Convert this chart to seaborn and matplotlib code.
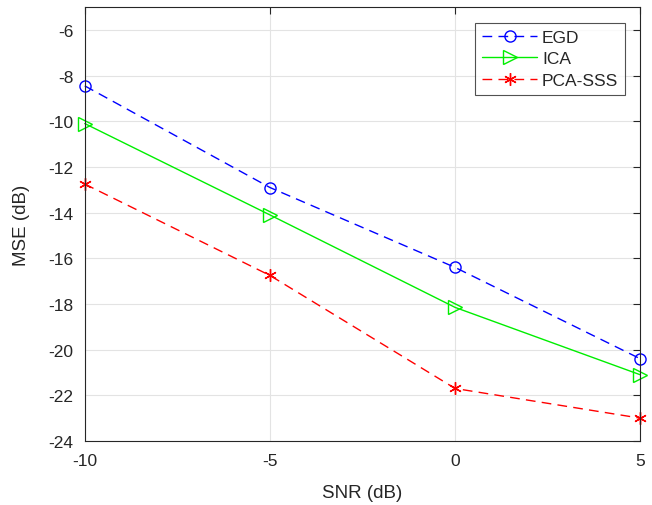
import matplotlib
matplotlib.use("Agg")
import matplotlib.pyplot as plt
import seaborn as sns
import pandas as pd

snr = [-10, -5, 0, 5]
egd = [-8.45, -12.9, -16.4, -20.4]
ica = [-10.1, -14.1, -18.15, -21.1]
pca_sss = [-12.75, -16.75, -21.7, -23.0]

sns.set_style("white")
plt.rcParams['font.family'] = ['Liberation Sans', 'DejaVu Sans']
plt.rcParams['axes.unicode_minus'] = False

fig = plt.figure(figsize=(6.52, 5.06), dpi=100)
ax = fig.add_axes([0.130, 0.1265, 0.852, 0.8575])

series = [
    ("EGD", egd, "#0000ff", True, "o", 8),
    ("ICA", ica, "#00ee00", False, ">", 10),
    ("PCA-SSS", pca_sss, "#ff0000", True, (6, 2, 0), 9),
]
for name, vals, col, dashed, mk, ms in series:
    df = pd.DataFrame({"SNR": snr, "MSE": vals})
    sns.lineplot(data=df, x="SNR", y="MSE", ax=ax, color=col, label=name,
                 marker=mk, markersize=ms, markerfacecolor="none",
                 markeredgecolor=col, markeredgewidth=1.0, linewidth=1.0,
                 clip_on=False)
    line = ax.get_lines()[-1]
    if dashed:
        line.set_dashes([7, 4.5])
    else:
        line.set_linestyle("-")

ax.set_xlim(-10, 5)
ax.set_ylim(-24, -5)
ax.set_xticks([-10, -5, 0, 5])
ax.set_yticks(list(range(-24, -5, 2)))
ax.grid(True, color="#e3e3e3", linewidth=0.8)
ax.set_axisbelow(True)
ax.tick_params(direction="in", length=5, width=0.8, labelsize=12.5, colors="#262626")
ax.tick_params(axis="x", pad=9)
ax.tick_params(axis="y", pad=8)
ax.tick_params(top=True, right=True)
for s in ax.spines.values():
    s.set_color("#262626")
    s.set_linewidth(0.8)
ax.set_xlabel("SNR (dB)", fontsize=13.5, color="#262626", labelpad=11)
ax.set_ylabel("MSE (dB)", fontsize=13.5, color="#262626", labelpad=13)

leg = ax.legend(loc="upper right", bbox_to_anchor=(0.973, 0.963), fontsize=12.5,
                frameon=True, fancybox=False, edgecolor="#262626",
                handlelength=3.15, borderpad=0.4, labelspacing=0.35,
                handletextpad=0.3, borderaxespad=0.0)
leg.get_frame().set_linewidth(0.8)

fig.savefig("out.png", dpi=100)
